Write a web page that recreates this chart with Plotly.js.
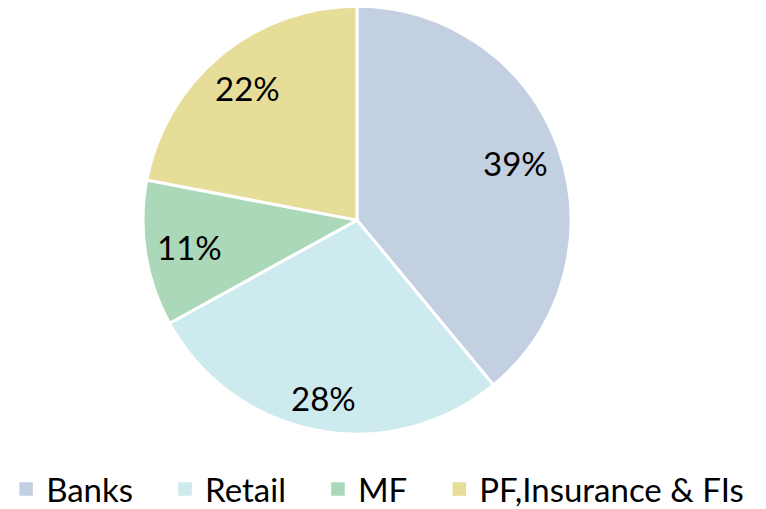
<!DOCTYPE html>
<html>
<head>
<meta charset="utf-8">
<script src="https://cdn.plot.ly/plotly-3.0.1.min.js"></script>
<style>
  html, body { margin: 0; padding: 0; background: #ffffff; }
  #chart { width: 766px; height: 509px; }
</style>
</head>
<body>
<div id="chart"></div>
<script>
// Investor categories and their share of holdings (%)
const categories = ["Banks", "Retail", "MF", "PF,Insurance & FIs"];
const shares = [39, 28, 11, 22];
const sliceColors = ["#c3d0e1", "#cdeaee", "#aad8b9", "#e6dd99"];

const W = 766, H = 509;
const pieDomain = { x: [0.1867, 0.7454], y: [0.147, 0.988] };
const labelFont = { family: "Lato, 'Open Sans', sans-serif", size: 33, color: "#000000" };

// Percentage labels sit near the rim, pushed out until the text box nearly
// touches the edge of the circle (the "inside end" style placement).
function rimLabels() {
  const cx = (pieDomain.x[0] + pieDomain.x[1]) / 2 * W;
  const cy = (1 - (pieDomain.y[0] + pieDomain.y[1]) / 2) * H;
  const R = Math.min((pieDomain.x[1] - pieDomain.x[0]) * W,
                     (pieDomain.y[1] - pieDomain.y[0]) * H) / 2;
  const total = shares.reduce((a, b) => a + b, 0);
  const reach = R - 11;     // farthest corner of a label from the centre
  const halfH = 15;
  let cum = 0;
  return shares.map((v) => {
    const mid = (cum + v / 2) / total * 2 * Math.PI;  // clockwise from 12 o'clock
    cum += v;
    const txt = v + "%";
    const halfW = 10.3 * txt.length;
    const ux = Math.sin(mid), uy = -Math.cos(mid);
    const b = Math.abs(ux) * halfW + Math.abs(uy) * halfH;
    const c = halfW * halfW + halfH * halfH - reach * reach;
    const r = -b + Math.sqrt(b * b - c);
    return {
      text: txt,
      x: (cx + r * ux) / W,
      y: 1 - (cy + r * uy) / H,
      xref: "paper", yref: "paper",
      xanchor: "center", yanchor: "middle",
      showarrow: false,
      font: labelFont
    };
  });
}

const trace = {
  type: "pie",
  labels: categories,
  values: shares,
  sort: false,
  direction: "clockwise",
  rotation: 0,
  marker: { colors: sliceColors, line: { color: "#ffffff", width: 3 } },
  textinfo: "none",
  domain: pieDomain,
  hoverinfo: "label+percent"
};

const layout = {
  width: W,
  height: H,
  margin: { l: 0, r: 0, t: 0, b: 0, autoexpand: false },
  paper_bgcolor: "#ffffff",
  showlegend: true,
  annotations: rimLabels(),
  legend: {
    orientation: "h",
    x: 0.008,
    xanchor: "left",
    y: 0.039,
    yanchor: "middle",
    font: labelFont,
    itemwidth: 30,
    traceorder: "normal"
  }
};

Plotly.newPlot("chart", [trace], layout, { displayModeBar: false, staticPlot: true }).then((gd) => {
  // Larger legend swatches and wider spacing between legend entries
  const extraGap = 27;
  gd.querySelectorAll(".legend .scrollbox").forEach((s) => s.removeAttribute("clip-path"));
  gd.querySelectorAll(".legend .traces").forEach((g, i) => {
    const m = /translate\(([-\d.]+)[ ,]+([-\d.]+)\)/.exec(g.getAttribute("transform") || "");
    if (m) {
      g.setAttribute("transform", "translate(" + (parseFloat(m[1]) + i * extraGap) + "," + m[2] + ")");
    }
    g.querySelectorAll(".legendpoints path").forEach((p) => {
      const t = p.getAttribute("transform") || "";
      p.setAttribute("transform", t + " scale(1.5)");
    });
  });
});
</script>
</body>
</html>
